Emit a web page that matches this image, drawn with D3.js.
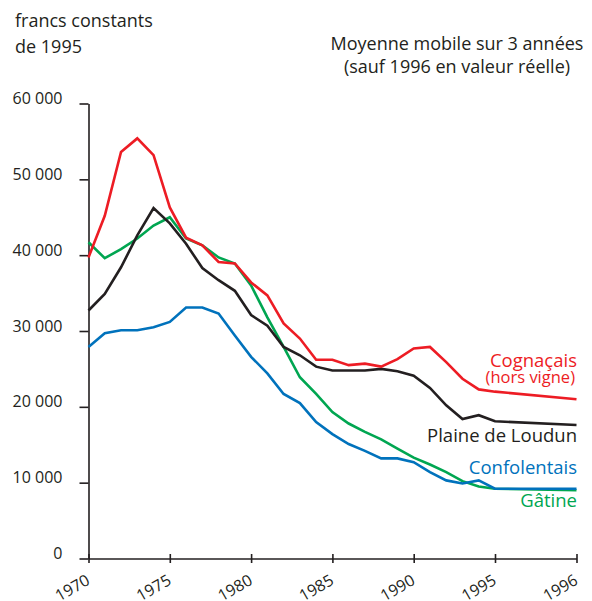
<!DOCTYPE html>
<html>
<head>
<meta charset="utf-8">
<script src="https://cdn.jsdelivr.net/npm/d3@7"></script>
<style>
  body { margin: 0; background: #fff; }
  text { font-family: "Open Sans", sans-serif; fill: #231f20; }
</style>
</head>
<body>
<script>
// years on the x axis (1995 -> 1996 gets the same width as five years)
var years = d3.range(1970, 1997);
var tickYears = [1970, 1975, 1980, 1985, 1990, 1995, 1996];
var yTicks = [0, 10000, 20000, 30000, 40000, 50000, 60000];

// values, 1970..1996
var cognacais = [39700, 45200, 53600, 55400, 53200, 46300, 42300, 41300, 39100, 38900,
                 36400, 34700, 31000, 29000, 26200, 26200, 25500, 25700, 25300, 26300,
                 27700, 27900, 25900, 23700, 22300, 22000, 21000];
var loudun = [32700, 34900, 38400, 42600, 46200, 44200, 41500, 38300, 36700, 35300,
              32100, 30700, 27900, 26800, 25300, 24800, 24800, 24800, 25000, 24700,
              24100, 22500, 20200, 18400, 18900, 18100, 17600];
var confolentais = [27900, 29700, 30100, 30100, 30500, 31200, 33100, 33100, 32300, 29400,
                    26600, 24400, 21700, 20500, 18000, 16400, 15100, 14200, 13200, 13200,
                    12700, 11400, 10300, 9900, 10300, 9200, 9200];
var gatine = [41700, 39600, 40800, 42200, 43900, 45000, 42200, 41300, 39700, 38900,
              36000, 31800, 27900, 23900, 21700, 19300, 17800, 16700, 15700, 14500,
              13300, 12400, 11400, 10200, 9500, 9200, 9000];

var seriesNames = ["Cognaçais", "Plaine de Loudun", "Confolentais", "Gâtine"];
var seriesColors = ["#ed1c24", "#231f20", "#0072bc", "#00a651"];

window.onload = function(){
    var w = 592, h = 601;
    var svg = d3.select("body")
        .append("svg")
        .attr("width", w)
        .attr("height", h);

    var x = d3.scaleLinear()
        .domain([1970, 1995, 1996])
        .range([88.5, 495, 576.5]);
    var y = d3.scaleLinear()
        .domain([0, 60000])
        .range([558.5, 103.5]);

    // y axis
    var fmt = function(d){ return d3.format(",")(d).replace(",", " "); };
    var yAxis = svg.append("g")
        .attr("transform", "translate(88.5,0)")
        .call(d3.axisLeft(y).tickValues(yTicks).tickSize(9).tickSizeOuter(0)
            .tickPadding(17).tickFormat(fmt));
    yAxis.selectAll("path, line").attr("stroke", "#231f20").attr("stroke-width", 1.6);
    yAxis.selectAll("text")
        .attr("dy", 0)
        .style("font-size", "16px")
        .style("font-family", "\"Open Sans\", sans-serif")
        .attr("fill", "#231f20");

    // x axis, ticks cross the line
    var xAxis = svg.append("g")
        .attr("transform", "translate(0,558.5)")
        .call(d3.axisBottom(x).tickValues(tickYears).tickSize(4.5).tickSizeOuter(0)
            .tickFormat(d3.format("d")));
    xAxis.select(".domain").attr("stroke", "#231f20").attr("stroke-width", 1.6);
    xAxis.selectAll(".tick line").attr("y1", -4.5)
        .attr("stroke", "#231f20").attr("stroke-width", 1.6);
    xAxis.selectAll(".tick text")
        .attr("y", 0).attr("dy", 0)
        .attr("text-anchor", "end")
        .attr("transform", "translate(2,25) rotate(-30)")
        .style("font-size", "16px")
        .style("font-family", "\"Open Sans\", sans-serif")
        .attr("fill", "#231f20");

    // lines
    var data = [cognacais, loudun, confolentais, gatine];
    var line = d3.line()
        .x(function(d, i){ return x(years[i]); })
        .y(function(d){ return y(d); });
    svg.selectAll(".serie")
        .data([gatine, confolentais, loudun, cognacais])
        .enter()
        .append("path")
        .attr("class", "serie")
        .attr("d", line)
        .attr("fill", "none")
        .attr("stroke-width", 2.6)
        .attr("stroke-linejoin", "miter")
        .attr("stroke", function(d){
            return seriesColors[data.indexOf(d)];
        });

    // titles
    svg.append("text").attr("x", 15).attr("y", 27)
        .style("font-size", "18px").text("francs constants");
    svg.append("text").attr("x", 15).attr("y", 53)
        .style("font-size", "18px").text("de 1995");
    svg.append("text").attr("x", 457).attr("y", 50).attr("text-anchor", "middle")
        .style("font-size", "18px").text("Moyenne mobile sur 3 années");
    svg.append("text").attr("x", 457).attr("y", 73).attr("text-anchor", "middle")
        .style("font-size", "18px").text("(sauf 1996 en valeur réelle)");

    // series labels
    var labelY = [367, 442, 474, 507];
    svg.selectAll(".lab")
        .data(seriesNames)
        .enter()
        .append("text")
        .attr("class", "lab")
        .attr("x", 577)
        .attr("y", function(d, i){ return labelY[i]; })
        .attr("text-anchor", "end")
        .style("font-size", "18.5px")
        .style("fill", function(d, i){ return seriesColors[i]; })
        .text(function(d){ return d; });
    svg.append("text").attr("x", 575).attr("y", 383).attr("text-anchor", "end")
        .style("font-size", "16.5px").style("fill", seriesColors[0])
        .text("(hors vigne)");
};
</script>
</body>
</html>
